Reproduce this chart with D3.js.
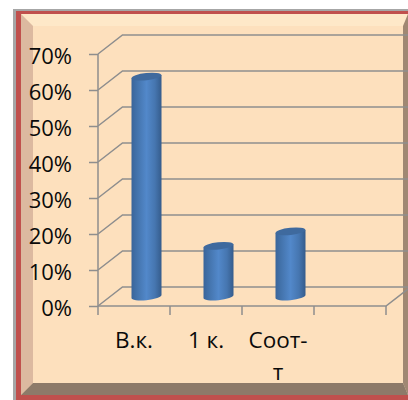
<!DOCTYPE html>
<html>
<head>
<meta charset="utf-8">
<script src="https://cdnjs.cloudflare.com/ajax/libs/d3/7.8.5/d3.min.js"></script>
<style>
  html, body { margin: 0; padding: 0; background: #fff; }
  svg { display: block; }
  text { font-family: "Open Sans", sans-serif; fill: #0a0a0a; }
</style>
</head>
<body>
<div id="chart"></div>
<script>
// values
const categories = ["В.к.", "1 к.", "Соот-т", ""]
const values = [0.615, 0.145, 0.185]
const yTicks = [0, 0.1, 0.2, 0.3, 0.4, 0.5, 0.6, 0.7]

const width = 408, height = 400

// 3d look of the chart: how far the back wall is shifted
const depthX = 24.5, depthY = 19
const barShiftX = 12.5, barShiftY = 8

var svg = d3.select("#chart").append("svg")
  .attr("width", width)
  .attr("height", height)

var defs = svg.append("defs")
var grad = defs.append("linearGradient").attr("id", "cyl")
grad.selectAll("stop")
  .data([[0, "#3a659a"], [0.2, "#4474ad"], [0.5, "#5288ca"], [0.78, "#4676b0"], [1, "#355c8c"]])
  .enter().append("stop")
  .attr("offset", d => d[0])
  .attr("stop-color", d => d[1])

// picture frame
svg.append("rect").attr("x", 13).attr("y", 9).attr("width", 395).attr("height", 391).attr("fill", "#a6a6a6")
svg.append("rect").attr("x", 16).attr("y", 11).attr("width", 392).attr("height", 389).attr("fill", "#c0504d")
svg.append("rect").attr("x", 21).attr("y", 14).attr("width", 387).attr("height", 381).attr("fill", "#fde0bd")

const inner = { l: 33, t: 26, r: 403, b: 383 }, outer = { l: 21, t: 14, r: 408, b: 395 }
const bevel = [
  { fill: "#fee8c8", pts: [[outer.l, outer.t], [outer.r, outer.t], [inner.r, inner.t], [inner.l, inner.t]] },
  { fill: "#dcb9a0", pts: [[outer.l, outer.t], [inner.l, inner.t], [inner.l, inner.b], [outer.l, outer.b]] },
  { fill: "#a08873", pts: [[outer.r, outer.t], [outer.r, outer.b], [inner.r, inner.b], [inner.r, inner.t]] },
  { fill: "#8d7a69", pts: [[outer.l, outer.b], [inner.l, inner.b], [inner.r, inner.b], [outer.r, outer.b]] }
]
svg.append("g").selectAll("polygon")
  .data(bevel)
  .enter().append("polygon")
  .attr("points", d => d.pts.join(" "))
  .attr("fill", d => d.fill)

var x = d3.scaleBand().domain(categories).range([98, 386])
var y = d3.scaleLinear().domain([0, 0.7]).range([306, 54])

const gridColor = "#8e8e8e"

// back wall and side wall lines
var grid = svg.append("g").attr("stroke", gridColor).attr("stroke-width", 1.5).attr("fill", "none")
grid.selectAll(".side")
  .data(yTicks)
  .enter().append("path")
  .attr("d", d => d3.line()([[98, y(d)], [98 + depthX, y(d) - depthY], [width, y(d) - depthY]]))
grid.append("path")
  .attr("d", d3.line()([[98, y(0)], [386, y(0)], [386 + depthX, y(0) - depthY]]))

// y axis
var yAxis = svg.append("g")
  .attr("transform", "translate(98,0)")
  .call(d3.axisLeft(y).tickValues(yTicks).tickFormat(d3.format(".0%")).tickSize(9).tickPadding(17))
yAxis.selectAll("path, line").attr("stroke", gridColor).attr("stroke-width", 1.5)
yAxis.select(".domain").attr("d", d3.line()([[0, y(0.7)], [0, y(0) + 9]]))
yAxis.selectAll("text").attr("font-size", 22).attr("dy", "0.42em")
  .style("font-family", "'Open Sans', sans-serif").attr("fill", "#0a0a0a")

// x axis ticks sit on the band edges
svg.append("g").attr("stroke", gridColor).attr("stroke-width", 1.5)
  .selectAll("line")
  .data(categories.map(d => x(d) + x.bandwidth()))
  .enter().append("line")
  .attr("x1", d => d).attr("x2", d => d)
  .attr("y1", y(0)).attr("y2", y(0) + 9)

// category labels, last one wraps like in the original
var labels = svg.append("g")
  .selectAll("text")
  .data(categories)
  .enter().append("text")
  .attr("text-anchor", "middle")
  .attr("font-size", 22.5)
  .attr("y", 348)
labels.each(function (d) {
  var cx = x(d) + x.bandwidth() / 2
  var parts = d.indexOf("-") > 0 ? [d.slice(0, d.indexOf("-") + 1), d.slice(d.indexOf("-") + 1)] : [d]
  d3.select(this).selectAll("tspan")
    .data(parts)
    .enter().append("tspan")
    .attr("x", cx)
    .attr("dy", (p, i) => i ? 32 : 0)
    .text(p => p)
})

// cylinders
const barW = 30, capRy = 3.6, tiltDeg = -6
var bars = svg.append("g").selectAll("g")
  .data(values)
  .enter().append("g")
bars.each(function (d, i) {
  var cx = x(categories[i]) + x.bandwidth() / 2 + barShiftX
  var l = cx - barW / 2, r = cx + barW / 2
  var top = y(d) - barShiftY, bottom = y(0) - barShiftY
  var g = d3.select(this)
  g.append("path")
    .attr("d", `M${l},${top + 1.5} L${l},${bottom} A${barW / 2},${capRy} ${tiltDeg} 0 0 ${r},${bottom - 3} L${r},${top - 1.5} Z`)
    .attr("fill", "url(#cyl)")
  g.append("ellipse")
    .attr("cx", cx).attr("cy", top)
    .attr("rx", barW / 2).attr("ry", capRy)
    .attr("transform", `rotate(${tiltDeg} ${cx} ${top})`)
    .attr("fill", "#3f6a9e")
})
</script>
</body>
</html>
